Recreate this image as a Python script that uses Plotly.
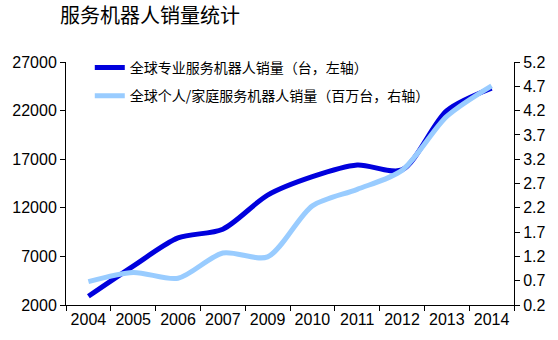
import plotly.graph_objects as go

years = ["2004", "2005", "2006", "2007", "2009", "2010", "2011", "2012", "2013", "2014"]
pro_units = [2900, 6000, 8900, 9800, 13300, 15200, 16400, 15900, 22000, 24300]
personal_mn = [0.68, 0.87, 0.75, 1.27, 1.19, 2.24, 2.58, 2.97, 4.08, 4.71]

name_pro = "全球专业服务机器人销量（台，左轴）"
name_personal = "全球个人/家庭服务机器人销量（百万台，右轴）"

W, H = 558, 340
L, R, T, B = 62, 44, 62, 35

fig = go.Figure()
fig.add_trace(go.Scatter(
    x=years, y=pro_units, name=name_pro, mode="lines",
    line=dict(color="#0000DD", width=5, shape="spline", smoothing=0.8),
    legendgroup="a", yaxis="y"))
fig.add_trace(go.Scatter(
    x=years, y=personal_mn, name=name_personal, mode="lines",
    line=dict(color="#99CCFF", width=5, shape="spline", smoothing=0.8),
    legendgroup="b", yaxis="y2"))

tickfont = dict(family="Liberation Sans, Arial, sans-serif", size=16, color="#000000")

fig.update_layout(
    width=W, height=H,
    margin=dict(l=L, r=R, t=T, b=B, pad=0),
    paper_bgcolor="white", plot_bgcolor="white",
    title=dict(text="服务机器人销量统计",
               font=dict(family="Noto Sans CJK SC", size=20, color="#000000"),
               xref="container", yref="container", x=60 / W, xanchor="left",
               y=1 - 16 / H, yanchor="middle"),
    xaxis=dict(type="category", range=[-0.5, 9.5], showline=True, linecolor="#000000",
               linewidth=1, ticks="outside", tickson="boundaries", ticklen=5,
               tickcolor="#000000", showgrid=False, zeroline=False, tickfont=tickfont),
    yaxis=dict(range=[2000, 27000], dtick=5000, tick0=2000, tickformat="d", showline=True,
               linecolor="#000000", linewidth=1, ticks="outside", ticklen=5,
               tickcolor="#000000", showgrid=False, zeroline=False, tickfont=tickfont),
    yaxis2=dict(range=[0.2, 5.2], dtick=0.5, tick0=0.2, tickformat=".1f",
                overlaying="y", side="right", showline=True, linecolor="#000000",
                linewidth=1, ticks="outside", ticklen=5, tickcolor="#000000",
                showgrid=False, zeroline=False, tickfont=tickfont),
    legend=dict(x=(86 - L) / (W - L - R), y=1 + 10 / (H - T - B), xanchor="left",
                yanchor="top", bgcolor="rgba(0,0,0,0)", tracegroupgap=7,
                font=dict(family="Noto Sans CJK SC", size=14, color="#000000"),
                itemwidth=30),
    showlegend=True,
)

fig.write_html("out.html")
